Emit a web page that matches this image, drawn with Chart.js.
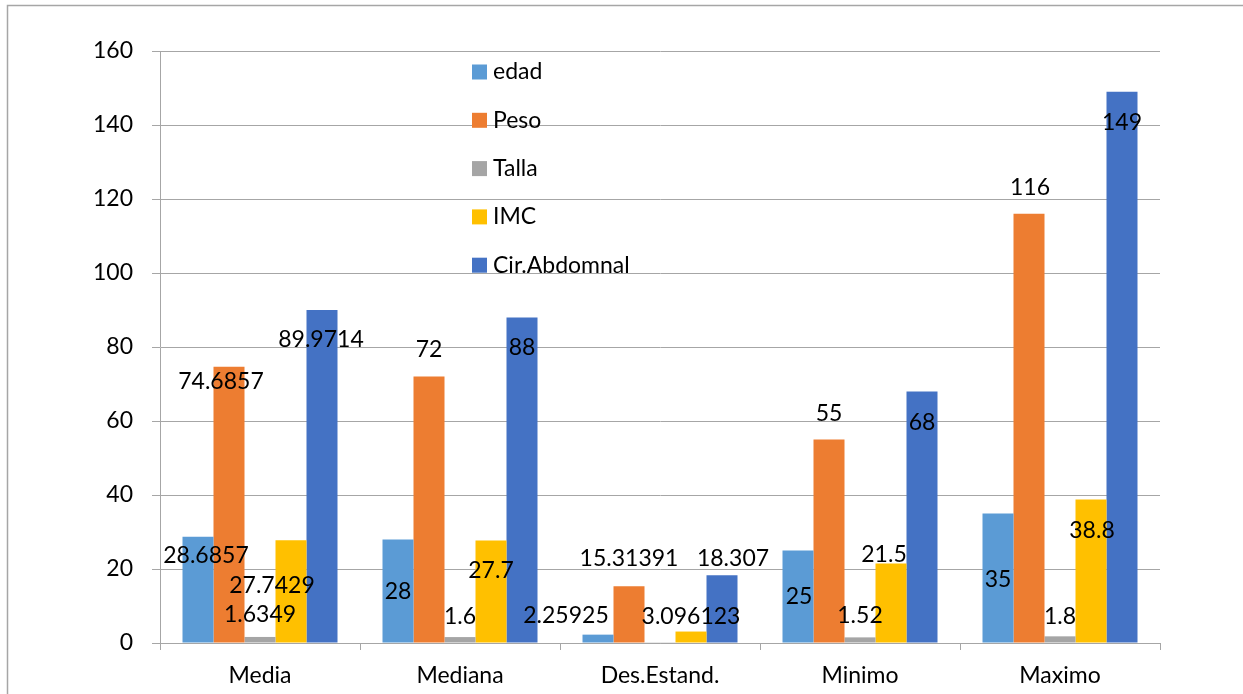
<!DOCTYPE html>
<html lang="es">
<head>
  <meta charset="UTF-8" />
  <title>Estadisticos descriptivos</title>
  <script src="https://cdn.jsdelivr.net/npm/chart.js"></script>
  <style>
    body { margin: 0; background: #fff; }
    canvas { display: block; }
  </style>
</head>
<body>

<canvas id="chart" width="1243" height="694"></canvas>

<script>
// datos del grafico
const categories = ['Media', 'Mediana', 'Des.Estand.', 'Minimo', 'Maximo'];
const edad = [28.6857, 28, 2.25925, 25, 35];
const peso = [74.6857, 72, 15.31391, 55, 116];
const talla = [1.6349, 1.6, 0.07, 1.52, 1.8];
const imc = [27.7429, 27.7, 3.096123, 21.5, 38.8];
const cirAbdomnal = [89.9714, 88, 18.307, 68, 149];
const yMax = 160;
const yStep = 20;

const FONT = 'Lato, "Open Sans", sans-serif';
const FONT_SIZE = 23;
const GRID = '#a6a6a6';

// desplazamiento de cada etiqueta respecto al extremo de la barra (null = sin etiqueta)
const labelOffsets = [
  [[8, 19], [0, 52], [-32, -19], [1, 46], [0, 66]],
  [[-8, 15], [0, -27], [0, -28], [0, -26], [1, -26]],
  [[0, -22], [0, -21], null, [0, -22], [0, -20]],
  [[-19, 45], [0, 30], [0, -15], [-7, -9], [1, 31]],
  [[-1, 29], [0, 30], [11, -17], [0, 31], [0, 31]]
];

const series = [
  { label: 'edad', data: edad, color: '#5B9BD5' },
  { label: 'Peso', data: peso, color: '#ED7D31' },
  { label: 'Talla', data: talla, color: '#A5A5A5' },
  { label: 'IMC', data: imc, color: '#FFC000' },
  { label: 'Cir.Abdomnal', data: cirAbdomnal, color: '#4472C4' }
];

const framePlugin = {
  id: 'frame',
  beforeDraw(chart) {
    const { ctx, width, height } = chart;
    ctx.save();
    ctx.strokeStyle = GRID;
    ctx.lineWidth = 1.5;
    ctx.beginPath();
    ctx.moveTo(7.5, height);
    ctx.lineTo(7.5, 5.5);
    ctx.lineTo(width, 5.5);
    ctx.stroke();
    ctx.restore();
  }
};

const labelsPlugin = {
  id: 'barLabels',
  afterDatasetsDraw(chart) {
    const ctx = chart.ctx;
    ctx.save();
    ctx.font = FONT_SIZE + 'px ' + FONT;
    ctx.fillStyle = '#000';
    ctx.textAlign = 'center';
    ctx.textBaseline = 'middle';
    chart.data.datasets.forEach((ds, i) => {
      chart.getDatasetMeta(i).data.forEach((bar, j) => {
        const off = labelOffsets[i][j];
        if (!off) return;
        ctx.fillText(String(ds.data[j]), bar.x + off[0], bar.y + off[1]);
      });
    });
    ctx.restore();
  }
};

const legendPlugin = {
  id: 'insideLegend',
  afterDraw(chart) {
    const ctx = chart.ctx;
    ctx.save();
    ctx.font = FONT_SIZE + 'px ' + FONT;
    ctx.textBaseline = 'middle';
    chart.data.datasets.forEach((ds, i) => {
      const y = 72 + i * 48.3;
      ctx.fillStyle = ds.backgroundColor;
      ctx.fillRect(472, y - 7.5, 15, 15);
      ctx.fillStyle = '#000';
      ctx.fillText(ds.label, 493, y);
    });
    ctx.restore();
  }
};

new Chart(document.getElementById('chart').getContext('2d'), {
  type: 'bar',
  data: {
    labels: categories,
    datasets: series.map(s => ({
      label: s.label,
      data: s.data,
      backgroundColor: s.color,
      borderWidth: 0,
      categoryPercentage: 0.775,
      barPercentage: 1.0
    }))
  },
  options: {
    responsive: false,
    animation: false,
    devicePixelRatio: 1,
    layout: { padding: { left: 0, right: 83, top: 51, bottom: 0 } },
    plugins: {
      legend: { display: false },
      tooltip: { enabled: false }
    },
    scales: {
      x: {
        grid: { drawOnChartArea: false, drawTicks: true, tickLength: 7, color: GRID, offset: true },
        border: { color: GRID, width: 1 },
        ticks: { color: '#000', font: { family: FONT, size: FONT_SIZE }, padding: 12 },
        afterFit(scale) { scale.height = 51; }
      },
      y: {
        min: 0,
        max: yMax,
        grid: { color: GRID, lineWidth: 1, tickLength: 8 },
        border: { color: GRID, width: 1 },
        ticks: { stepSize: yStep, color: '#000', font: { family: FONT, size: FONT_SIZE }, padding: 19 },
        afterFit(scale) { scale.width = 160; }
      }
    }
  },
  plugins: [framePlugin, labelsPlugin, legendPlugin]
});
</script>

</body>
</html>
